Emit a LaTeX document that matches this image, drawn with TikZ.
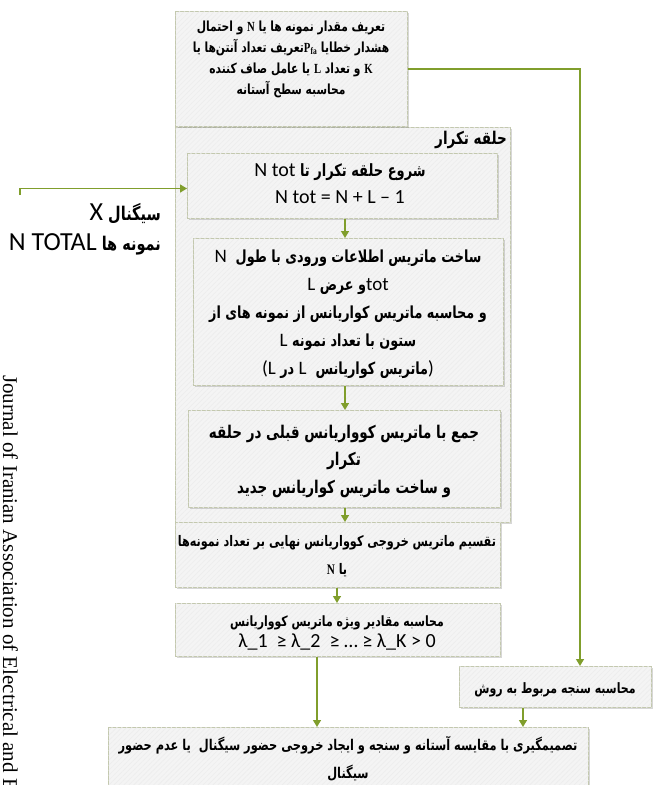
\documentclass[tikz,border=0pt]{standalone}
\usepackage{fontspec}
\usepackage{graphicx}
\TeXXeTstate=1
\newfontfamily\fa[Script=Arabic]{DejaVu Sans}
\newfontfamily\calfont{Carlito}
\newfontfamily\tms{Liberation Serif}
\usetikzlibrary{arrows.meta,shadows,patterns.meta}
\definecolor{connc}{HTML}{809E2C}
\definecolor{bordc}{HTML}{C3C8AE}
\definecolor{boxfill}{HTML}{F4F4F4}
\newcommand\rl[1]{\scalebox{1}[1.3]{\beginR#1\endR}}
\newcommand\lat[2]{\hbox{\beginL\calfont\mdseries\fontsize{#1}{#1}\selectfont #2\endL}}
\newcommand\ilat[2]{\hbox{\beginL\scalebox{1}[0.77]{\lat{#1}{#2}}\endL}}
\newcommand\tb[1]{\hbox{\beginL\tms\bfseries #1\endL}}
\tikzset{
  boxst/.style={draw=bordc, line width=1pt, fill=boxfill,
    drop shadow={shadow xshift=1.2pt,shadow yshift=-1.8pt,fill=black!45,opacity=0.35},
    postaction={pattern={Lines[angle=45,distance=3.5pt,line width=0.6pt]}, pattern color=black!7},
    inner sep=0pt, anchor=north west},
  connst/.style={draw=connc, line width=1.4pt, -{Triangle[width=8pt,length=7pt]}},
  txtst/.style={align=center, inner sep=0pt, text=black},
}
\begin{document}
\begin{tikzpicture}[x=1pt,y=-1pt]
\useasboundingbox (0,0) rectangle (656,785);
% boxes
\node[boxst, minimum width=335pt, minimum height=395pt] (loop) at (175,127) {};
\node[boxst, minimum width=232pt, minimum height=115pt] (top) at (175,11) {};
\node[boxst, minimum width=310pt, minimum height=65pt] (b1) at (187,153) {};
\node[boxst, minimum width=310pt, minimum height=147pt] (b2) at (193,238) {};
\node[boxst, minimum width=312pt, minimum height=97pt] (b3) at (188,410) {};
\node[boxst, minimum width=325pt, minimum height=65pt] (b4) at (175,522) {};
\node[boxst, minimum width=325pt, minimum height=53pt] (b5) at (175,603) {};
\node[boxst, minimum width=192pt, minimum height=41pt] (b6) at (459,666) {};
\node[boxst, minimum width=480pt, minimum height=80pt] (b7) at (108,727) {};
% texts
\node[txtst, font=\fa\bfseries\fontsize{10.7}{21}\selectfont] (ttop) at (291,59.5)
  {\rl{تعریف مقدار نمونه ها یا \tb{N} و احتمال}\\
   \rl{هشدار خطایا \tb{P\textsubscript{fa}}تعریف تعداد آنتن‌ها یا}\\
   \rl{\tb{K} و تعداد \tb{L} یا عامل صاف کننده}\\
   \rl{محاسبه سطح آستانه}};
\node[anchor=east, inner sep=0pt, font=\fa\bfseries\fontsize{13.5}{15}\selectfont] (tloop) at (507,140) {\rl{حلقه تکرار}};
\node[txtst, font=\fa\bfseries\fontsize{13}{27}\selectfont] (t1) at (340,183.5)
  {\rl{شروع حلقه تکرار تا \ilat{20}{N tot}}\\
   \lat{20}{N tot = N + L – 1}};
\node[txtst, font=\fa\bfseries\fontsize{12.8}{28}\selectfont] (t2) at (348,314.6)
  {\rl{ساخت ماتریس اطلاعات ورودی با طول \ \ilat{19}{N}}\\
   \rl{\ilat{19}{tot}و عرض \ilat{19}{L}}\\
   \rl{و محاسبه ماتریس کواریانس از نمونه های از}\\
   \rl{ستون با تعداد نمونه \ilat{19}{L}}\\
   \lat{19}{(}\lat{19}{L} \rl{در} \lat{19}{L}\ \ \rl{ماتریس کواریانس}\lat{19}{)}};
\node[txtst, font=\fa\bfseries\fontsize{13.5}{27.5}\selectfont] (t3) at (344,461)
  {\rl{جمع با ماتریس کوواریانس قبلی در حلقه}\\
   \rl{تکرار}\\
   \rl{و ساخت ماتریس کواریانس جدید}};
\node[txtst, font=\fa\bfseries\fontsize{11.2}{28}\selectfont] (t4) at (337,556)
  {\rl{تقسیم ماتریس خروجی کوواریانس نهایی بر تعداد نمونه‌ها}\\
   \rl{یا \tb{N}}};
\node[txtst, font=\fa\bfseries\fontsize{10.9}{21}\selectfont] (t5) at (337,632.5)
  {\rl{محاسبه مقادیر ویژه ماتریس کوواریانس}\\
   \lat{20}{λ\_1\ \ ≥ λ\_2\ \ ≥ … ≥ λ\_K > 0}};
\node[txtst, font=\fa\bfseries\fontsize{11}{21}\selectfont] (t6) at (555,690)
  {\rl{محاسبه سنجه مربوط به روش}};
\node[txtst, font=\fa\bfseries\fontsize{11.4}{28}\selectfont] (t7) at (348,759)
  {\rl{تصمیمگیری با مقایسه آستانه و سنجه و ایجاد خروجی حضور سیگنال\ \ یا عدم حضور}\\
   \rl{سیگنال}};
\node[anchor=east, align=right, inner sep=0pt, font=\fa\bfseries\fontsize{14.5}{30}\selectfont] (tin) at (161,229)
  {\rl{سیگنال \ilat{26}{X}}\\
   \rl{نمونه ها \ilat{26}{N TOTAL}}};
\node[anchor=base west, rotate=-90, inner sep=0pt, font=\tms\fontsize{21}{21}\selectfont] (journal) at (3,375)
  {Journal of Iranian Association of Electrical and E};
% connectors
\coordinate (cin) at (20,195);
\coordinate (xr) at (580,0);
\coordinate (x345) at (345,0);
\coordinate (x337) at (337,0);
\coordinate (x317) at (317,0);
\coordinate (x523) at (523,0);
\coordinate (y69) at (0,69);
\coordinate (y188) at (0,188.5);
\draw[connst] (cin) -- (cin |- y188) -- (b1.west |- y188);
\draw[connst] (top.east |- y69) -- (xr |- y69) -- (xr |- b6.north);
\draw[connst] (b1.south -| x345) -- (b2.north -| x345);
\draw[connst] (b2.south -| x345) -- (b3.north -| x345);
\draw[connst] (b3.south -| x345) -- (b4.north -| x345);
\draw[connst] (b4.south -| x337) -- (b5.north -| x337);
\draw[connst] (b5.south -| x317) -- (b7.north -| x317);
\draw[connst] (b6.south -| x523) -- (b7.north -| x523);
\end{tikzpicture}
\end{document}
